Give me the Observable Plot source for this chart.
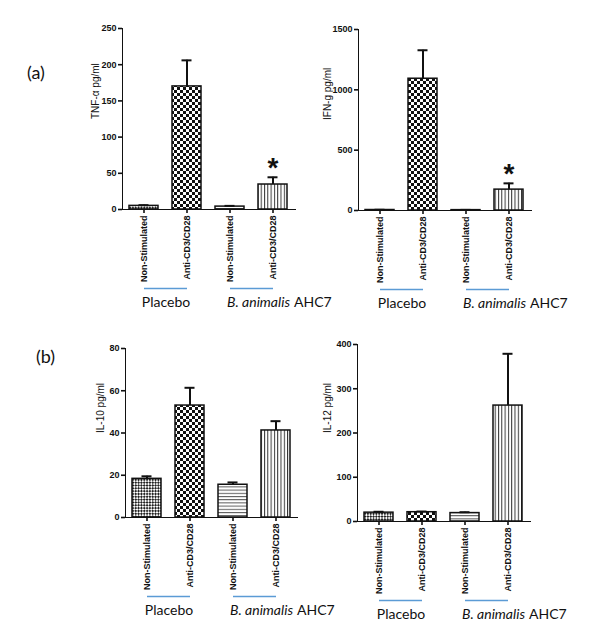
<!DOCTYPE html>
<html>
<head>
<meta charset="utf-8">
<script src="https://cdn.jsdelivr.net/npm/d3@7"></script>
<script src="https://cdn.jsdelivr.net/npm/@observablehq/plot@0.6"></script>
<style>
  html, body { margin: 0; padding: 0; background: #fff; }
  #root { position: relative; width: 600px; height: 639px; overflow: hidden; }
  .panel { position: absolute; }
  .tag { position: absolute; font-family: Lato, "Open Sans", sans-serif; font-size: 18px; color: #111; }
  .panel svg g[aria-label*="axis"] path,
  .panel svg g[aria-label*="axis"] line,
  .panel svg g[aria-label="frame"] line,
  .panel svg g[aria-label="frame"] path { stroke-width: 1.6; stroke: #111; }
</style>
</head>
<body>
<svg width="0" height="0" style="position:absolute">
  <defs>
    <pattern id="pat1" width="4" height="4" patternUnits="userSpaceOnUse" patternTransform="rotate(45)">
      <rect width="4" height="4" fill="#fff"/>
      <rect width="2" height="2" fill="#222"/>
      <rect x="2" y="2" width="2" height="2" fill="#222"/>
    </pattern>
    <pattern id="pat2" width="6" height="6" patternUnits="userSpaceOnUse">
      <rect width="6" height="6" fill="#fff"/>
      <rect width="3" height="3" fill="#111"/>
      <rect x="3" y="3" width="3" height="3" fill="#111"/>
    </pattern>
    <pattern id="pat3" width="4" height="3.2" patternUnits="userSpaceOnUse">
      <rect width="4" height="3.2" fill="#fff"/>
      <rect width="4" height="1" fill="#555"/>
    </pattern>
    <pattern id="pat4" width="3.3" height="4" patternUnits="userSpaceOnUse">
      <rect width="3.3" height="4" fill="#fff"/>
      <rect width="1" height="4" fill="#333"/>
    </pattern>
  </defs>
</svg>
<div id="root">
  <div class="tag" style="left:27px; top:61px;">(a)</div>
  <div class="tag" style="left:36px; top:345px;">(b)</div>
</div>
<script>
// ---- data ----
const categories = ["P-NS", "P-A", "B-NS", "B-A"];
const categoryLabels = ["Non-Stimulated", "Anti-CD3/CD28", "Non-Stimulated", "Anti-CD3/CD28"];
const groups = ["Placebo", "B. animalis", "AHC7"];

const tnfMean = [5, 170, 4, 34.5];
const tnfErr = [1, 36, 1, 10];
const tnfStar = [false, false, false, true];
const tnfTicks = [0, 50, 100, 150, 200, 250];

const ifnMean = [4, 1092, 3, 173];
const ifnErr = [2, 236, 2, 52];
const ifnStar = [false, false, false, true];
const ifnTicks = [0, 500, 1000, 1500];

const il10Mean = [18.3, 53, 15.5, 41.2];
const il10Err = [1.2, 8.4, 1.1, 4.4];
const il10Star = [false, false, false, false];
const il10Ticks = [0, 20, 40, 60, 80];

const il12Mean = [20, 21, 19, 262];
const il12Err = [2, 1.5, 2, 117];
const il12Star = [false, false, false, false];
const il12Ticks = [0, 100, 200, 300, 400];

const patternFills = ["url(#pat1)", "url(#pat2)", "url(#pat3)", "url(#pat4)"];
const labelOf = Object.fromEntries(categories.map((k, i) => [k, categoryLabels[i]]));

function panel(o) {
  const rows = categories.map((key, i) => ({key, mean: o.mean[i], err: o.err[i], star: o.star[i]}));
  const stars = rows.filter(d => d.star);
  const half = 22;
  const svg = Plot.plot({
    width: 300,
    height: o.height,
    marginLeft: o.ml, marginRight: o.mr, marginTop: o.mt, marginBottom: o.mb,
    style: {fontFamily: "'Liberation Sans', Arial, sans-serif", fontSize: "9px", fontWeight: "bold", color: "#111", background: "transparent", overflow: "visible"},
    x: {domain: categories, paddingInner: 0.32, paddingOuter: 0.13, tickFormat: k => labelOf[k], tickRotate: -90, tickSize: 4, tickPadding: 2, line: true, label: null},
    y: {domain: [0, o.ticks[o.ticks.length - 1]], ticks: o.ticks, tickFormat: d => String(d), tickSize: 4, tickPadding: 2, line: true, label: null},
    color: {type: "ordinal", domain: categories, range: patternFills},
    marks: [
      Plot.barY(rows, {x: "key", y: "mean", fill: "key", stroke: "#111", strokeWidth: 1.5}),
      Plot.ruleX(rows, {x: "key", y1: "mean", y2: d => d.mean + d.err, stroke: "#111", strokeWidth: 2}),
      Plot.tickY(rows, {x: "key", y: d => d.mean + d.err, stroke: "#111", strokeWidth: 2, insetLeft: 9.5, insetRight: 9.5}),
      Plot.text(stars, {x: "key", y: d => d.mean + d.err, text: () => "*", fontSize: 28, fontWeight: "bold", lineAnchor: "top", dy: -20}),
      Plot.text([o.label], {text: d => d, frameAnchor: "left", rotate: -90, dx: o.labelDx, fontSize: 10, fontWeight: "normal"}),
      Plot.link([{a: "P-NS", b: "P-A"}, {a: "B-NS", b: "B-A"}], {x1: "a", x2: "b", y1: () => 0, y2: () => 0, dy: 79, stroke: "#5b9bd5", strokeWidth: 1.6}),
      Plot.text([groups[0]], {x: () => "P-NS", text: d => d, frameAnchor: "bottom", dx: half, dy: 93, fontFamily: "Lato, 'Open Sans', sans-serif", fontSize: 14, fontWeight: "normal", lineAnchor: "middle"}),
      Plot.text([groups[1]], {x: () => "B-A", text: d => d, frameAnchor: "bottom", dx: 17, dy: 93, textAnchor: "end", fontFamily: "Lato, 'Open Sans', sans-serif", fontSize: 14, fontWeight: "normal", fontStyle: "italic", lineAnchor: "middle"}),
      Plot.text([groups[2]], {x: () => "B-A", text: d => d, frameAnchor: "bottom", dx: 21, dy: 93, textAnchor: "start", fontFamily: "Lato, 'Open Sans', sans-serif", fontSize: 14, fontWeight: "normal", lineAnchor: "middle"})
    ]
  });
  const wrap = document.createElement("div");
  wrap.className = "panel";
  wrap.style.left = o.left + "px";
  wrap.style.top = o.top + "px";
  wrap.appendChild(svg);
  document.getElementById("root").appendChild(wrap);
}

panel({mean: tnfMean, err: tnfErr, star: tnfStar, ticks: tnfTicks, label: "TNF-α pg/ml", labelDx: -27,
  left: 0, top: 0, height: 320, ml: 122, mr: 5, mt: 28, mb: 111});
panel({mean: ifnMean, err: ifnErr, star: ifnStar, ticks: ifnTicks, label: "IFN-g pg/ml", labelDx: -31,
  left: 300, top: 0, height: 320, ml: 58, mr: 69, mt: 29, mb: 110});
panel({mean: il10Mean, err: il10Err, star: il10Star, ticks: il10Ticks, label: "IL-10 pg/ml", labelDx: -25,
  left: 0, top: 320, height: 319, ml: 125, mr: 3, mt: 28, mb: 122});
panel({mean: il12Mean, err: il12Err, star: il12Star, ticks: il12Ticks, label: "IL-12 pg/ml", labelDx: -30,
  left: 300, top: 320, height: 319, ml: 57, mr: 70, mt: 24, mb: 118});
</script>
</body>
</html>
